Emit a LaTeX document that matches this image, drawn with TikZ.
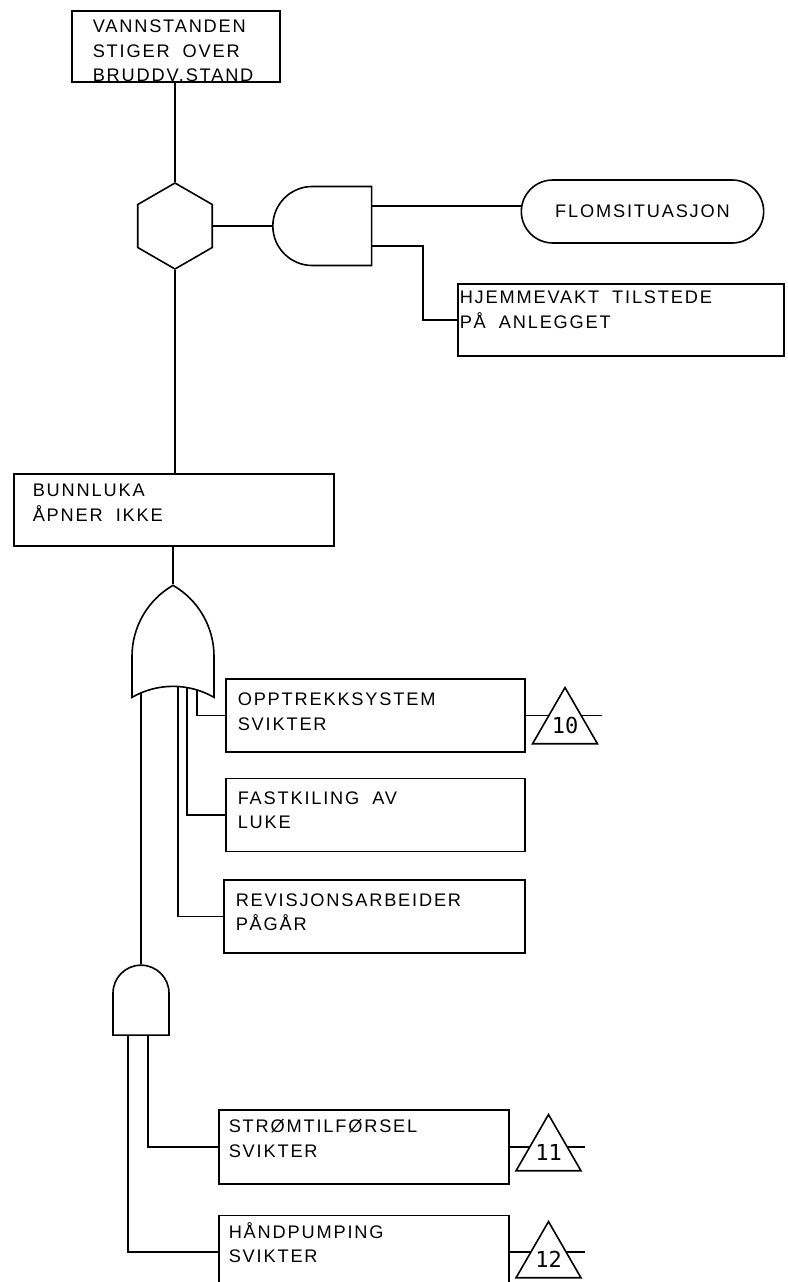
\documentclass[tikz,border=0pt]{standalone}
\usepackage{fontspec}
\setmainfont{Liberation Sans}[LetterSpace=10]
\newfontfamily\digitfont{DejaVu Sans Mono}
\usetikzlibrary{positioning,shapes.geometric,shapes.misc,shapes.gates.logic.US,backgrounds}
\protected\def\treefont{\fontsize{18.2}{24.5}\selectfont}
\protected\def\widespace{\spaceskip=13pt plus 2pt\relax}

\begin{document}
\begin{tikzpicture}[
  x=1pt, y=-1pt, line width=1.6pt, node distance=25pt,
  font=\treefont,
  ev/.style={draw, rectangle, anchor=north west, align=left, inner ysep=0pt,
             inner xsep=12pt, text width=275pt, text height=26pt, text depth=47pt,
             execute at begin node=\widespace},
  hexa/.style={draw, fill=white, regular polygon, regular polygon sides=6,
               shape border rotate=30, minimum size=86pt, inner sep=0pt},
  cond/.style={draw, fill=white, rounded rectangle, minimum width=249pt,
               minimum height=63pt},
  xfer/.style={draw, fill=white, regular polygon, regular polygon sides=3,
               minimum size=66pt, inner sep=0pt,
               font=\digitfont\fontsize{22}{22}\selectfont},
  andg/.style={draw, fill=white, and gate US, inner sep=0pt},
  org/.style={draw, fill=white, or gate US, inner sep=0pt}]
\useasboundingbox (0,0) rectangle (787,1282);
% top of the tree
\node[ev, inner xsep=21pt, text width=166pt, text height=22pt, text depth=49pt] (top) at (71,10)
  {VANNSTANDEN\\STIGER OVER\\BRUDDV.STAND};
\node[hexa] (hex) at (175,226) {};
\node[andg, rotate=180, minimum width=83pt, minimum height=79pt] (and1) at (325.5,226) {};
\node[cond] (flom) at (642.5,211.5) {FLOMSITUASJON};
\node[ev, inner xsep=2pt, text width=322pt, text height=20pt, text depth=52pt] (hjem) at (457,283)
  {HJEMMEVAKT TILSTEDE\\PÅ ANLEGGET};
\node[ev, inner xsep=19pt, text width=282pt, text height=23pt, text depth=49pt] (bunn) at (13,473)
  {BUNNLUKA\\ÅPNER IKKE};
% OR gate and its inputs
\node[org, rotate=90, minimum width=73pt, minimum height=82pt] (or1) at (173,649.5) {};
\node[ev, text height=27pt, text depth=46pt] (opp) at (225,678) {OPPTREKKSYSTEM\\SVIKTER};
\node[ev, below=25pt of opp.south west, anchor=north west] (fast) {FASTKILING AV\\LUKE};
\node[ev, below=27pt of fast.south west, anchor=north west, xshift=-2pt, text width=277pt] (rev)
  {REVISJONSARBEIDER\\PÅGÅR};
\node[andg, rotate=90, minimum width=57pt, minimum height=56pt] (and2) at (141,1002.5) {};
\node[ev, inner xsep=10pt, text width=270pt, text height=23pt, text depth=51pt] (strom) at (218,1109)
  {STRØMTILFØRSEL\\SVIKTER};
\node[ev, inner xsep=10pt, text width=270pt, text height=23pt, text depth=50pt,
      below=30pt of strom.south west, anchor=north west] (hand) {HÅNDPUMPING\\SVIKTER};
% transfer symbols
\node[xfer] (t10) at (565,725) {10};
\node[xfer] (t11) at (548.5,1152) {11};
\node[xfer] (t12) at (548.5,1259) {12};
\coordinate[right=76pt of opp.east] (t10-end);
\coordinate[right=75pt of strom.east] (t11-end);
\coordinate[right=75pt of hand.east] (t12-end);
% gate inputs
\coordinate (and1-a) at (360,206);
\coordinate (and1-b) at (360,246);
\coordinate (in-opp) at (197,660);
\coordinate (in-fast) at (187,660);
\coordinate (in-rev) at (178,660);
\coordinate (in-strom) at (148,1010);
\coordinate (in-hand) at (128,1010);
\begin{scope}[on background layer={line width=1.6pt}]
\draw (hex.north |- top.south) -- (hex.north);
\draw (hex.east) -- (and1.output);
\draw (and1-a) -- (and1-a -| flom.west);
\draw (and1-b) -- ++(63,0) |- (hjem.west);
\draw (hex.south) -- (hex.south |- bunn.north);
\draw (or1.output |- bunn.south) -- (or1.output);
\draw (in-opp) |- (opp.west);
\draw (in-fast) |- (fast.west);
\draw (in-rev) |- (rev.west);
\draw (and2.output) -- (and2.output |- or1.center);
\draw (in-strom) |- (strom.west);
\draw (in-hand) |- (hand.west);
\draw (opp.east) -- (t10-end);
\draw (strom.east) -- (t11-end);
\draw (hand.east) -- (t12-end);
\end{scope}
\end{tikzpicture}
\end{document}
